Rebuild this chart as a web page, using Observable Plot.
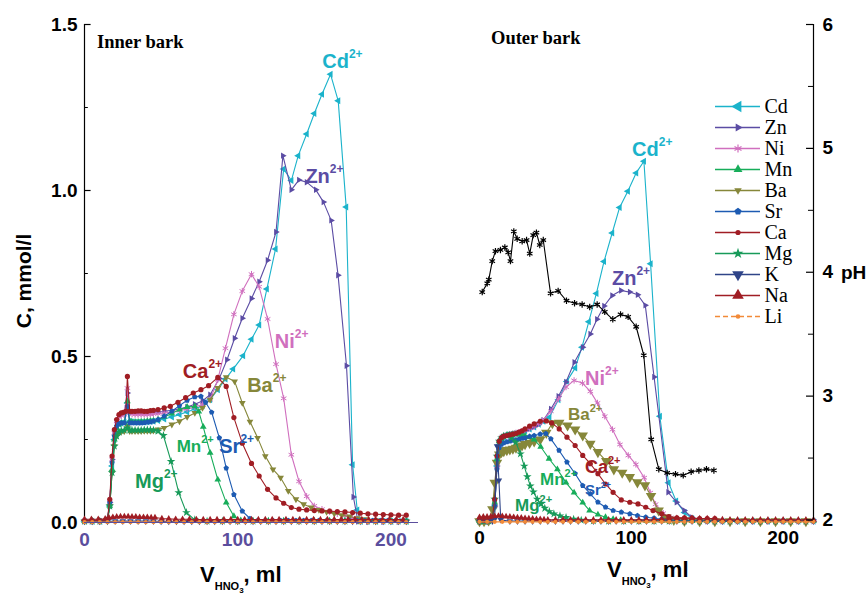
<!DOCTYPE html>
<html>
<head>
<meta charset="utf-8">
<script src="https://cdn.jsdelivr.net/npm/d3@7"></script>
<script src="https://cdn.jsdelivr.net/npm/@observablehq/plot@0.6"></script>
<style>
  html, body { margin: 0; padding: 0; background: #fff; }
  #chart { position: relative; width: 868px; height: 595px; overflow: hidden; background: #fff; }
  #chart svg { position: absolute; }
</style>
</head>
<body>
<div id="chart"></div>
<script>
// ---------- axis ticks ----------
const cTicks = [0, 0.5, 1.0, 1.5];
const cMinorTicks = [0.25, 0.75, 1.25];
const vTicks = [0, 100, 200];
const phTicks = [2, 3, 4, 5, 6];
const phMinorTicks = [2.5, 3.5, 4.5, 5.5];

// ---------- inner bark: [V HNO3 (ml), C (mmol/l)] ----------
const innerCd = [[0,0.004],[5,0.004],[10,0.004],[15,0.008],[16.5,0.05],[18,0.17],[19.5,0.25],[21,0.285],[22.5,0.297],[24,0.3],[26,0.302],[28,0.36],[29.5,0.305],[31,0.303],[33,0.302],[35,0.302],[37,0.302],[39,0.302],[41,0.303],[43,0.304],[45,0.305],[48,0.307],[52,0.312],[57,0.318],[62,0.325],[67,0.333],[72,0.342],[77,0.352],[82,0.37],[87,0.4],[92,0.432],[97,0.462],[103.5,0.502],[109,0.552],[114,0.595],[119,0.703],[124.7,0.824],[130,1.065],[135,1.03],[139.5,1.105],[145,1.17],[150,1.232],[155,1.29],[160.6,1.35],[165.6,1.27],[170.8,0.95],[175,0.174],[178,0.038],[180,0.004],[185,0.004],[190,0.004],[195,0.004],[200,0.004],[205,0.004],[210,0.004]];
const innerZn = [[0,0.004],[5,0.004],[10,0.004],[15,0.008],[16.5,0.06],[18,0.19],[19.5,0.27],[21,0.305],[22.5,0.32],[24,0.325],[26,0.33],[28,0.39],[29.5,0.335],[31,0.333],[33,0.332],[35,0.332],[37,0.332],[39,0.332],[41,0.332],[43,0.332],[45,0.332],[48,0.333],[52,0.335],[57,0.338],[62,0.342],[67,0.348],[72,0.356],[77,0.366],[82,0.385],[88,0.434],[93,0.49],[98,0.555],[103,0.615],[109,0.675],[114,0.725],[119.5,0.79],[125,0.875],[129.5,1.105],[135,1.002],[140,1.032],[145,1.025],[151,1.002],[156,0.965],[161,0.91],[165.5,0.745],[171,0.472],[175.5,0.077],[178.5,0.003],[185,0.002],[195,0.002],[205,0.002]];
const innerNi = [[0,0.004],[5,0.004],[10,0.004],[15,0.008],[16.5,0.06],[18,0.19],[19.5,0.27],[21,0.305],[22.5,0.318],[24,0.322],[26,0.325],[28,0.405],[29.5,0.33],[31,0.326],[33,0.325],[35,0.325],[37,0.325],[39,0.325],[41,0.325],[43,0.326],[45,0.327],[48,0.328],[52,0.33],[57,0.333],[62,0.337],[67,0.342],[72,0.348],[77,0.355],[82,0.37],[87,0.43],[92,0.525],[97.5,0.627],[103,0.697],[109,0.748],[114,0.71],[119.5,0.613],[125,0.477],[130,0.374],[135,0.204],[140,0.124],[145,0.079],[150,0.05],[155,0.04],[160,0.032],[165,0.026],[170,0.02],[175,0.014],[180,0.008],[190,0.004],[200,0.004],[210,0.004]];
const innerMn = [[0,0.004],[5,0.004],[10,0.004],[15,0.008],[16.5,0.05],[18,0.16],[19.5,0.25],[21,0.285],[22.5,0.295],[24,0.3],[26,0.3],[28,0.365],[29.5,0.305],[31,0.303],[33,0.303],[35,0.303],[37,0.304],[39,0.304],[41,0.305],[43,0.306],[45,0.307],[48,0.31],[52,0.318],[57,0.328],[62,0.34],[67,0.348],[72,0.35],[74.6,0.334],[77.5,0.288],[82,0.21],[87,0.129],[92.5,0.06],[97.5,0.019],[102,0.006],[110,0.004],[120,0.004],[130,0.004],[140,0.004],[150,0.004],[160,0.004],[170,0.004],[180,0.004],[190,0.004],[200,0.004],[210,0.004]];
const innerBa = [[0,0.004],[5,0.004],[10,0.004],[15,0.008],[16.5,0.05],[18,0.15],[19.5,0.23],[21,0.26],[22.5,0.27],[24,0.274],[26,0.275],[28,0.29],[29.5,0.275],[31,0.275],[33,0.275],[35,0.275],[37,0.275],[39,0.276],[41,0.276],[43,0.276],[45,0.277],[48,0.28],[52,0.285],[57,0.295],[62,0.305],[67,0.318],[72,0.33],[77,0.345],[82,0.37],[87,0.405],[92.5,0.438],[98,0.425],[103,0.36],[108,0.304],[113,0.255],[118,0.2],[123,0.16],[128,0.135],[133,0.095],[138,0.07],[143,0.055],[148,0.045],[153,0.038],[158,0.032],[163,0.027],[168,0.022],[173,0.018],[178,0.013],[183,0.01],[190,0.007],[200,0.005],[210,0.005]];
const innerSr = [[0,0.004],[5,0.004],[10,0.004],[15,0.008],[16.5,0.06],[18,0.18],[19.5,0.26],[21,0.29],[22.5,0.298],[24,0.3],[26,0.3],[28,0.35],[29.5,0.3],[31,0.3],[33,0.3],[35,0.3],[37,0.3],[39,0.301],[41,0.302],[43,0.303],[45,0.305],[48,0.31],[52,0.32],[57,0.335],[62,0.352],[67,0.368],[72,0.378],[76,0.38],[79,0.362],[83,0.332],[88,0.255],[92.5,0.164],[97.5,0.084],[103,0.034],[108,0.012],[113,0.006],[118,0.006],[123,0.006],[128,0.006],[133,0.006],[138,0.006],[143,0.006],[148,0.006],[153,0.006],[158,0.006],[163,0.006],[168,0.006],[173,0.006],[178,0.006],[183,0.006],[188,0.006],[193,0.006],[198,0.006],[203,0.006],[208,0.006]];
const innerCa = [[0,0.005],[5,0.005],[10,0.005],[15,0.01],[16.5,0.07],[18,0.2],[19.5,0.28],[21,0.31],[22.5,0.325],[24,0.33],[25.5,0.332],[27,0.335],[28,0.44],[29.5,0.335],[31,0.335],[33,0.335],[35,0.336],[37,0.336],[39,0.335],[41,0.335],[43,0.337],[45,0.338],[48,0.34],[52,0.345],[56,0.35],[61,0.362],[66,0.376],[71,0.39],[76,0.4],[81,0.412],[87,0.437],[92.5,0.41],[97.5,0.316],[103,0.239],[109,0.178],[114,0.14],[119.5,0.1],[125,0.074],[130,0.058],[135,0.045],[140,0.04],[145,0.038],[150,0.036],[155,0.035],[160,0.034],[165,0.033],[170,0.032],[175,0.03],[180,0.028],[185,0.026],[190,0.025],[195,0.024],[200,0.023],[205,0.022],[210,0.022]];
const innerMg = [[0,0.004],[5,0.004],[10,0.004],[15,0.008],[16.5,0.05],[18,0.15],[19.5,0.23],[21,0.26],[22.5,0.272],[24,0.276],[26,0.278],[28,0.285],[29.5,0.278],[31,0.278],[33,0.278],[35,0.278],[37,0.278],[39,0.279],[41,0.279],[43,0.279],[45,0.278],[48,0.275],[51.5,0.262],[56.5,0.184],[61.5,0.09],[66.5,0.03],[72,0.008],[80,0.004],[90,0.004],[100,0.004],[110,0.004],[120,0.004],[130,0.004],[140,0.004],[150,0.004],[160,0.004],[170,0.004],[180,0.004],[190,0.004],[200,0.004],[210,0.004]];
const innerK = [[0,0.003],[5,0.003],[10,0.003],[15,0.003],[20,0.004],[25,0.004],[30,0.004],[35,0.004],[40,0.004],[45,0.004],[50,0.003],[55,0.003],[60,0.003],[65,0.003],[70,0.003],[75,0.003],[80,0.003],[85,0.003],[90,0.003],[95,0.003],[100,0.003],[105,0.003],[110,0.003],[115,0.003],[120,0.003],[125,0.003],[130,0.003],[135,0.003],[140,0.003],[145,0.003],[150,0.003],[155,0.003],[160,0.003],[165,0.003],[170,0.003],[175,0.003],[180,0.003],[185,0.003],[190,0.003],[195,0.003],[200,0.003],[205,0.003],[210,0.003]];
const innerNa = [[0,0.01],[4.5,0.01],[9,0.01],[13.5,0.011],[16,0.014],[18.5,0.016],[21,0.017],[23.5,0.018],[26,0.018],[28.5,0.018],[31,0.017],[33.5,0.017],[36,0.016],[38.5,0.016],[41,0.016],[43.5,0.015],[46,0.015],[50.5,0.012],[55,0.011],[59.5,0.01],[64,0.01],[68.5,0.01],[73,0.009],[77.5,0.009],[82,0.009],[86.5,0.009],[91,0.009],[95.5,0.009],[100,0.009],[104.5,0.009],[109,0.009],[113.5,0.009],[118,0.009],[122.5,0.009],[127,0.009],[131.5,0.009],[136,0.009],[140.5,0.009],[145,0.009],[149.5,0.009],[154,0.009],[158.5,0.009],[163,0.009],[167.5,0.009],[172,0.009],[176.5,0.009],[181,0.009],[185.5,0.009],[190,0.009],[194.5,0.009],[199,0.009],[203.5,0.009],[208,0.009]];
const innerLi = [[0,0.001],[5,0.001],[10,0.001],[15,0.001],[20,0.001],[25,0.001],[30,0.001],[35,0.001],[40,0.001],[45,0.001],[50,0.001],[55,0.001],[60,0.001],[65,0.001],[70,0.001],[75,0.001],[80,0.001],[85,0.001],[90,0.001],[95,0.001],[100,0.001],[105,0.001],[110,0.001],[115,0.001],[120,0.001],[125,0.001],[130,0.001],[135,0.001],[140,0.001],[145,0.001],[150,0.001],[155,0.001],[160,0.001],[165,0.001],[170,0.001],[175,0.001],[180,0.001],[185,0.001],[190,0.001],[195,0.001],[200,0.001],[205,0.001],[210,0.001]];

// ---------- outer bark: [V HNO3 (ml), C (mmol/l)] ----------
const outerCd = [[0,0.004],[3,0.004],[6,0.005],[8.5,0.01],[10,0.05],[11.5,0.17],[13,0.235],[14.5,0.252],[16,0.258],[18,0.262],[20,0.264],[22,0.266],[24,0.268],[26,0.27],[28,0.273],[30,0.276],[33,0.282],[36,0.288],[39,0.296],[42,0.305],[46,0.317],[52,0.37],[57.5,0.425],[63,0.465],[67.5,0.528],[72,0.605],[77,0.69],[82,0.786],[87.4,0.872],[92.3,0.949],[97.7,0.998],[103.2,1.053],[108.3,1.088],[112.7,0.779],[118.8,0.32],[124.5,0.12],[129.5,0.065],[135,0.03],[140,0.012],[145,0.006],[150,0.005],[160,0.004],[170,0.004],[180,0.004],[190,0.004],[200,0.004],[210,0.004],[220,0.004]];
const outerZn = [[0,0.004],[3,0.004],[6,0.005],[8.5,0.01],[10,0.05],[11.5,0.17],[13,0.235],[14.5,0.252],[16,0.258],[18,0.262],[20,0.264],[22,0.266],[24,0.268],[26,0.27],[28,0.273],[30,0.276],[33,0.282],[36,0.288],[39,0.296],[42,0.308],[47,0.342],[52,0.38],[57,0.423],[62.5,0.483],[68,0.528],[73,0.568],[77.4,0.612],[82.1,0.652],[87.4,0.684],[93.2,0.699],[99,0.694],[104.2,0.686],[109.2,0.654],[115,0.438],[124.3,0.091],[129.8,0.061],[134.9,0.036],[140,0.015],[145,0.006],[150,0.004],[160,0.004],[170,0.004],[180,0.004],[190,0.004],[200,0.004],[210,0.004],[220,0.004]];
const outerNi = [[0,0.004],[3,0.004],[6,0.005],[8.5,0.01],[10,0.05],[11.5,0.17],[13,0.24],[14.5,0.255],[16,0.26],[18,0.263],[20,0.265],[22,0.267],[24,0.27],[26,0.272],[28,0.275],[30,0.278],[33,0.284],[36,0.29],[39,0.298],[41.5,0.307],[47,0.335],[52,0.372],[57,0.408],[62.3,0.428],[67.8,0.42],[73,0.395],[77.7,0.36],[82.5,0.32],[87.6,0.28],[92.5,0.235],[98,0.202],[103,0.175],[108.5,0.135],[112.5,0.09],[116,0.055],[121,0.028],[126,0.015],[131,0.008],[140,0.005],[150,0.004],[160,0.004],[170,0.004],[180,0.004],[190,0.004],[200,0.004],[210,0.004],[220,0.004]];
const outerMn = [[0,0.004],[3,0.004],[6,0.005],[8.5,0.01],[10,0.06],[11.5,0.19],[13,0.245],[14.5,0.255],[16,0.26],[18,0.263],[20,0.265],[22,0.266],[24,0.266],[26,0.265],[28,0.263],[30,0.261],[33,0.257],[36,0.25],[40.3,0.228],[45.8,0.192],[51.3,0.16],[57,0.12],[62.3,0.09],[68,0.06],[72.5,0.036],[78,0.024],[83,0.016],[88,0.01],[93,0.007],[100,0.005],[110,0.004],[120,0.004],[130,0.004],[140,0.004],[150,0.004],[160,0.004],[170,0.004],[180,0.004],[190,0.004],[200,0.004],[210,0.004],[220,0.004]];
const outerBa = [[0,0.004],[3,0.004],[6,0.006],[8.5,0.04],[10,0.12],[11.5,0.18],[13,0.205],[14.5,0.212],[16,0.215],[18,0.218],[20,0.22],[22,0.222],[24,0.225],[26,0.228],[28,0.232],[30,0.236],[33,0.24],[36,0.244],[40,0.25],[44,0.27],[48,0.299],[52.5,0.3],[58,0.292],[63,0.28],[68,0.262],[73,0.237],[78,0.212],[83.5,0.185],[88.5,0.16],[94,0.15],[99,0.137],[104,0.121],[109,0.112],[113,0.08],[118,0.036],[123,0.015],[128,0.008],[135,0.005],[145,0.004],[155,0.004],[165,0.004],[175,0.004],[185,0.004],[195,0.004],[205,0.004],[215,0.004]];
const outerSr = [[0,0.004],[3,0.004],[6,0.005],[8.5,0.01],[10,0.05],[11.5,0.16],[13,0.225],[14.5,0.235],[16,0.24],[18,0.243],[20,0.245],[22,0.247],[24,0.249],[26,0.251],[28,0.253],[30,0.255],[33,0.259],[36,0.262],[40,0.266],[43.7,0.268],[47,0.252],[52.4,0.217],[57.6,0.182],[63,0.147],[68,0.111],[73,0.086],[78,0.061],[83,0.046],[88,0.036],[93.4,0.031],[99,0.026],[104,0.021],[109.5,0.016],[115,0.013],[120,0.01],[125,0.008],[130,0.007],[140,0.005],[150,0.005],[160,0.005],[170,0.005],[180,0.005],[190,0.005],[200,0.005],[210,0.005],[220,0.005]];
const outerCa = [[0,0.006],[3,0.006],[6,0.007],[8.5,0.015],[10,0.07],[11.5,0.2],[13,0.245],[14.5,0.256],[16,0.26],[18,0.262],[20,0.264],[22,0.266],[24,0.268],[26,0.272],[28,0.276],[30,0.282],[33,0.29],[36,0.297],[40,0.305],[44,0.306],[47.5,0.3],[52.5,0.282],[57.6,0.257],[63,0.232],[68,0.202],[73,0.177],[78,0.147],[83,0.116],[88,0.091],[93.4,0.068],[99,0.061],[104.4,0.056],[109.5,0.046],[114.3,0.036],[120,0.026],[124.7,0.018],[130,0.014],[135,0.014],[140,0.013],[145,0.012],[150,0.012],[155,0.012]];
const outerMg = [[0,0.004],[3,0.004],[6,0.005],[8.5,0.01],[10,0.07],[11.5,0.2],[13,0.245],[14.5,0.255],[16,0.26],[18.3,0.262],[21,0.255],[23.8,0.242],[27,0.207],[29.5,0.17],[31.5,0.138],[33.5,0.11],[35.5,0.092],[38,0.07],[40.5,0.056],[43,0.043],[46,0.033],[49,0.026],[53,0.02],[57,0.015],[62,0.01],[67,0.007],[75,0.005],[85,0.004],[95,0.004],[105,0.004],[115,0.004],[125,0.004],[135,0.004],[145,0.004],[155,0.004],[165,0.004],[175,0.004],[185,0.004],[195,0.004],[205,0.004],[215,0.004]];
const outerK = [[0,0.003],[5,0.003],[8.5,0.004],[10,0.01],[11.5,0.23],[12.8,0.127],[14,0.008],[20,0.004],[25,0.004],[30,0.004],[35,0.004],[40,0.004],[45,0.004],[50,0.004],[55,0.004],[60,0.004],[65,0.004],[70,0.004],[75,0.004],[80,0.004],[85,0.004],[90,0.004],[95,0.004],[100,0.004],[105,0.004],[110,0.004],[115,0.004],[120,0.004],[125,0.004],[130,0.004],[135,0.004],[140,0.004],[145,0.004],[150,0.004],[155,0.004],[160,0.004],[165,0.004],[170,0.004],[175,0.004],[180,0.004],[185,0.004],[190,0.004],[195,0.004],[200,0.004],[205,0.004],[210,0.004],[215,0.004],[220,0.004]];
const outerNa = [[0,0.016],[2.5,0.017],[5,0.017],[7.5,0.018],[10,0.019],[12.5,0.02],[15,0.019],[17.5,0.018],[20,0.017],[22.5,0.016],[25,0.015],[27.5,0.014],[30,0.013],[32.5,0.012],[35,0.011],[37.5,0.01],[40,0.01],[42.5,0.009],[45,0.008],[50,0.008],[55,0.008],[60,0.008],[65,0.008],[70,0.008],[75,0.008],[80,0.008],[85,0.008],[90,0.008],[95,0.008],[100,0.008],[105,0.008],[110,0.008],[115,0.008],[120,0.01],[125,0.012],[130,0.013],[135,0.013],[140,0.013],[145,0.012],[150,0.012],[155,0.011],[160,0.009],[165,0.008],[170,0.008],[175,0.008],[180,0.008],[185,0.008],[190,0.008],[195,0.008],[200,0.008],[205,0.008],[210,0.008],[215,0.008],[220,0.008]];
const outerLi = [[0,0.002],[5,0.002],[10,0.002],[15,0.002],[20,0.002],[25,0.002],[30,0.002],[35,0.002],[40,0.002],[45,0.002],[50,0.002],[55,0.002],[60,0.002],[65,0.002],[70,0.002],[75,0.002],[80,0.002],[85,0.002],[90,0.002],[95,0.002],[100,0.002],[105,0.002],[110,0.002],[115,0.002],[120,0.002],[125,0.002],[130,0.002],[135,0.002],[140,0.002],[145,0.002],[150,0.002],[155,0.002],[160,0.002],[165,0.002],[170,0.002],[175,0.002],[180,0.002],[185,0.002],[190,0.002],[195,0.002],[200,0.002],[205,0.002],[210,0.002],[215,0.002],[220,0.002]];

// ---------- outer bark eluate pH: [V HNO3 (ml), pH] ----------
const outerPH = [[1.8,3.84],[5.1,3.91],[6.1,3.94],[8.4,4.09],[10.5,4.17],[13.8,4.18],[16.7,4.2],[18.9,4.16],[20.4,4.09],[22.6,4.33],[24.8,4.27],[28.1,4.25],[31,4.26],[33.1,4.15],[35.4,4.3],[37.5,4.32],[39.7,4.22],[42,4.26],[46.8,3.83],[51.8,3.85],[57.3,3.77],[62.6,3.75],[67.6,3.74],[72.6,3.72],[77.5,3.74],[82.5,3.68],[87.8,3.62],[92.9,3.66],[97.9,3.64],[103.2,3.56],[108.2,3.33],[113.1,2.65],[118.1,2.41],[123.6,2.38],[129.1,2.37],[134.2,2.36],[139.4,2.39],[144.5,2.4],[149.5,2.41],[154.4,2.4]];

// ---------- ion labels placed on the curves ----------
const innerLabels = [
  {ion: "Cd", x: 155.5, y: 1.367, size: 20},
  {ion: "Zn", x: 144.5, y: 1.022, size: 20},
  {ion: "Ni", x: 124.5, y: 0.524, size: 20},
  {ion: "Ca", x: 64.5, y: 0.434, size: 20},
  {ion: "Ba", x: 106.5, y: 0.392, size: 20},
  {ion: "Sr", x: 88.3, y: 0.209, size: 20},
  {ion: "Mn", x: 60.5, y: 0.212, size: 17},
  {ion: "Mg", x: 33.3, y: 0.101, size: 20}
];
const outerLabels = [
  {ion: "Cd", x: 100.8, y: 1.102, size: 20},
  {ion: "Zn", x: 87.6, y: 0.714, size: 20},
  {ion: "Ni", x: 69.8, y: 0.413, size: 20},
  {ion: "Ba", x: 58.6, y: 0.307, size: 17},
  {ion: "Ca", x: 69.8, y: 0.148, size: 18},
  {ion: "Mn", x: 40.2, y: 0.111, size: 17},
  {ion: "Sr", x: 69.8, y: 0.081, size: 15},
  {ion: "Mg", x: 23.7, y: 0.033, size: 17}
];

const legendIons = ["Cd", "Zn", "Ni", "Mn", "Ba", "Sr", "Ca", "Mg", "K", "Na", "Li"];

// ---------- styling ----------
const colors = {Cd: "#1bb3cb", Zn: "#5b4ca4", Ni: "#d06fbe", Mn: "#17ad5a", Ba: "#86873a",
  Sr: "#1d5bb2", Ca: "#a01d24", Mg: "#179a59", K: "#2f4488", Na: "#a01d24", Li: "#f28a38"};
const axisPurple = "#5b4e9d";
const sans = "'Liberation Sans', Arial, Helvetica, sans-serif";
const serif = "'Liberation Serif', 'Times New Roman', serif";

function triangle(deg) {
  const a0 = deg * Math.PI / 180;
  return {draw(context, size) {
    const R = Math.sqrt(size / 1.299);
    for (let i = 0; i < 3; i++) {
      const a = a0 + i * 2 * Math.PI / 3;
      if (i === 0) context.moveTo(R * Math.cos(a), R * Math.sin(a));
      else context.lineTo(R * Math.cos(a), R * Math.sin(a));
    }
    context.closePath();
  }};
}
const pentagon = {draw(context, size) {
  const R = Math.sqrt(size / 2.378);
  for (let i = 0; i < 5; i++) {
    const a = -Math.PI / 2 + i * 2 * Math.PI / 5;
    if (i === 0) context.moveTo(R * Math.cos(a), R * Math.sin(a));
    else context.lineTo(R * Math.cos(a), R * Math.sin(a));
  }
  context.closePath();
}};
const triUp = triangle(-90), triDown = triangle(90), triLeft = triangle(180), triRight = triangle(0);

const styleOf = {
  Cd: {symbol: triLeft, r: 2.6},
  Zn: {symbol: triRight, r: 2.4},
  Ni: {symbol: "asterisk", r: 3, stroked: true},
  Mn: {symbol: triUp, r: 2.5},
  Ba: {symbol: triDown, r: 2.5},
  Sr: {symbol: pentagon, r: 2.5},
  Ca: {symbol: "circle", r: 2.6},
  Mg: {symbol: "star", r: 2.7},
  K: {symbol: triDown, r: 2.4},
  Na: {symbol: triUp, r: 2.4},
  Li: {symbol: "circle", r: 2.1, dash: "5,3"}
};
const legendR = {Cd: 4.3, Zn: 3, Ni: 3.8, Mn: 3.3, Ba: 2.8, Sr: 3.2, Ca: 2.6, Mg: 3.4, K: 4.3, Na: 4.3, Li: 2.3};
const drawOrder = ["Cd", "Zn", "Ni", "Ba", "Mn", "Sr", "Mg", "Ca", "K", "Na", "Li"];

function seriesMarks(series, rOverride = {}) {
  const marks = [];
  for (const ion of drawOrder) {
    const pts = series[ion];
    const st = styleOf[ion];
    marks.push(Plot.line(pts, {x: d => d[0], y: d => d[1], stroke: colors[ion], strokeWidth: 1.1, strokeDasharray: st.dash}));
    marks.push(Plot.dot(pts, {x: d => d[0], y: d => d[1], symbol: st.symbol, r: rOverride[ion] ?? st.r,
      fill: st.stroked ? "none" : colors[ion], stroke: st.stroked ? colors[ion] : "none", strokeWidth: 1}));
  }
  return marks;
}

function mapper(plot, name) {
  const s = plot.scale(name);
  if (s.apply) return v => s.apply(v);
  const [d0, d1] = s.domain, [r0, r1] = s.range;
  return v => r0 + (v - d0) / (d1 - d0) * (r1 - r0);
}

function addIonLabels(plot, labels) {
  const sx = mapper(plot, "x"), sy = mapper(plot, "y");
  const g = d3.select(plot).append("g").attr("font-family", sans).attr("font-weight", "bold")
    .attr("text-anchor", "start");
  for (const d of labels) {
    const t = g.append("text").attr("x", sx(d.x)).attr("y", sy(d.y))
      .attr("font-size", d.size).attr("fill", colors[d.ion]);
    t.append("tspan").text(d.ion);
    t.append("tspan").attr("dy", -0.5 * d.size).attr("font-size", Math.round(d.size * 0.62)).text("2+");
  }
}

function addText(plot, str, x, y, attrs) {
  const t = d3.select(plot).append("text").attr("x", x).attr("y", y).attr("text-anchor", "start").text(str);
  for (const k in attrs) t.attr(k, attrs[k]);
  return t;
}

function addVolumeTitle(plot, x, y) {
  const t = d3.select(plot).append("text").attr("x", x).attr("y", y).attr("text-anchor", "start")
    .attr("font-family", sans).attr("font-weight", "bold").attr("font-size", 22).attr("fill", "#000");
  t.append("tspan").text("V");
  t.append("tspan").attr("font-size", 11).attr("dy", 8).text("HNO");
  t.append("tspan").attr("font-size", 8).attr("dy", 3).text("3");
  t.append("tspan").attr("font-size", 22).attr("dy", -11).text(", ml");
}

const chart = document.getElementById("chart");
const baseStyle = {background: "transparent", fontFamily: sans, overflow: "visible"};

// ---------- inner bark panel ----------
const left = Plot.plot({
  width: 430, height: 595,
  marginLeft: 84, marginRight: 12, marginTop: 24, marginBottom: 73,
  x: {domain: [0, 218]},
  y: {domain: [0, 1.5]},
  style: baseStyle,
  marks: [
    Plot.ruleX([0], {stroke: "#000", strokeWidth: 1.2}),
    Plot.ruleY(cTicks, {x1: 0, x2: 4.3, stroke: "#000", strokeWidth: 1.2}),
    Plot.ruleY(cMinorTicks, {x1: 0, x2: 2.5, stroke: "#000", strokeWidth: 1}),
    Plot.axisY({ticks: cTicks, tickSize: 0, tickPadding: 7, tickFormat: d3.format(".1f"), label: null,
      fontSize: 19, fontWeight: "bold", color: "#000"}),
    Plot.axisX({ticks: vTicks, tickSize: 0, tickPadding: 10, label: null,
      fontSize: 19, fontWeight: "bold", color: axisPurple}),
    ...seriesMarks({Cd: innerCd, Zn: innerZn, Ni: innerNi, Mn: innerMn, Ba: innerBa, Sr: innerSr,
      Ca: innerCa, Mg: innerMg, K: innerK, Na: innerNa, Li: innerLi}),
    Plot.ruleY([0], {stroke: axisPurple, strokeWidth: 1})
  ]
});
left.style.left = "0px"; left.style.top = "0px";
chart.appendChild(left);
addIonLabels(left, innerLabels);
addText(left, "Inner bark", 97, 48, {"font-family": serif, "font-weight": "bold", "font-size": 18.5});
addText(left, "C, mmol/l", 0, 0, {"font-family": sans, "font-weight": "bold", "font-size": 21,
  "text-anchor": "middle", transform: "translate(31,281) rotate(-90)"});
addVolumeTitle(left, 200, 582);

// ---------- outer bark panel: concentrations ----------
const right = Plot.plot({
  width: 438, height: 595,
  marginLeft: 49, marginRight: 55, marginTop: 24, marginBottom: 73,
  x: {domain: [0, 220]},
  y: {domain: [0, 1.5], axis: null},
  style: baseStyle,
  marks: [
    Plot.axisX({ticks: vTicks, tickSize: 0, tickPadding: 8, label: null,
      fontSize: 19, fontWeight: "bold", color: "#000"}),
    ...seriesMarks({Cd: outerCd, Zn: outerZn, Ni: outerNi, Mn: outerMn, Ba: outerBa, Sr: outerSr,
      Ca: outerCa, Mg: outerMg, K: outerK, Na: outerNa, Li: outerLi}, {Ba: 3.9})
  ]
});
right.style.left = "430px"; right.style.top = "0px";
chart.appendChild(right);
addIonLabels(right, outerLabels);
addText(right, "Outer bark", 61, 44, {"font-family": serif, "font-weight": "bold", "font-size": 18.5});
addVolumeTitle(right, 177, 577);

// ---------- outer bark panel: pH on the right axis ----------
const phPlot = Plot.plot({
  width: 438, height: 595,
  marginLeft: 49, marginRight: 55, marginTop: 24, marginBottom: 75.5,
  x: {domain: [0, 220], axis: null},
  y: {domain: [2, 6]},
  style: baseStyle,
  marks: [
    Plot.ruleX([220], {stroke: "#000", strokeWidth: 1.2}),
    Plot.ruleY(phTicks, {x1: 215.4, x2: 220, stroke: "#000", strokeWidth: 1.2}),
    Plot.ruleY(phMinorTicks, {x1: 216.7, x2: 220, stroke: "#000", strokeWidth: 1}),
    Plot.axisY({anchor: "right", ticks: phTicks, tickSize: 0, tickPadding: 9, tickFormat: d3.format("d"), label: null,
      fontSize: 19, fontWeight: "bold", color: "#000"}),
    Plot.line(outerPH, {x: d => d[0], y: d => d[1], stroke: "#000", strokeWidth: 1.1}),
    Plot.dot(outerPH, {x: d => d[0], y: d => d[1], symbol: "asterisk", r: 3, stroke: "#000", fill: "none", strokeWidth: 1.2})
  ]
});
phPlot.style.left = "430px"; phPlot.style.top = "0px";
chart.appendChild(phPlot);
addText(phPlot, "pH", 411, mapper(phPlot, "y")(4) + 7, {"font-family": sans, "font-weight": "bold", "font-size": 19});

// ---------- legend ----------
const legend = Plot.plot({
  width: 120, height: 280, margin: 0,
  x: {domain: [0, 1], range: [15, 60], axis: null},
  y: {type: "point", domain: legendIons, range: [20, 261], axis: null},
  style: {background: "transparent", overflow: "visible"},
  marks: legendIons.flatMap(ion => [
    Plot.ruleY([ion], {x1: 0, x2: 1, stroke: colors[ion], strokeWidth: 1.3, strokeDasharray: styleOf[ion].dash}),
    Plot.dot([ion], {x: 0.5, y: d => d, symbol: styleOf[ion].symbol, r: legendR[ion],
      fill: styleOf[ion].stroked ? "none" : colors[ion], stroke: styleOf[ion].stroked ? colors[ion] : "none", strokeWidth: 1.2}),
    Plot.text([ion], {x: 1, y: d => d, dx: 4, text: d => d, textAnchor: "start", lineAnchor: "middle",
      fontFamily: serif, fontSize: 20, fill: "#000"})
  ])
});
legend.style.left = "700px"; legend.style.top = "70px";
chart.appendChild(legend);
</script>
</body>
</html>
